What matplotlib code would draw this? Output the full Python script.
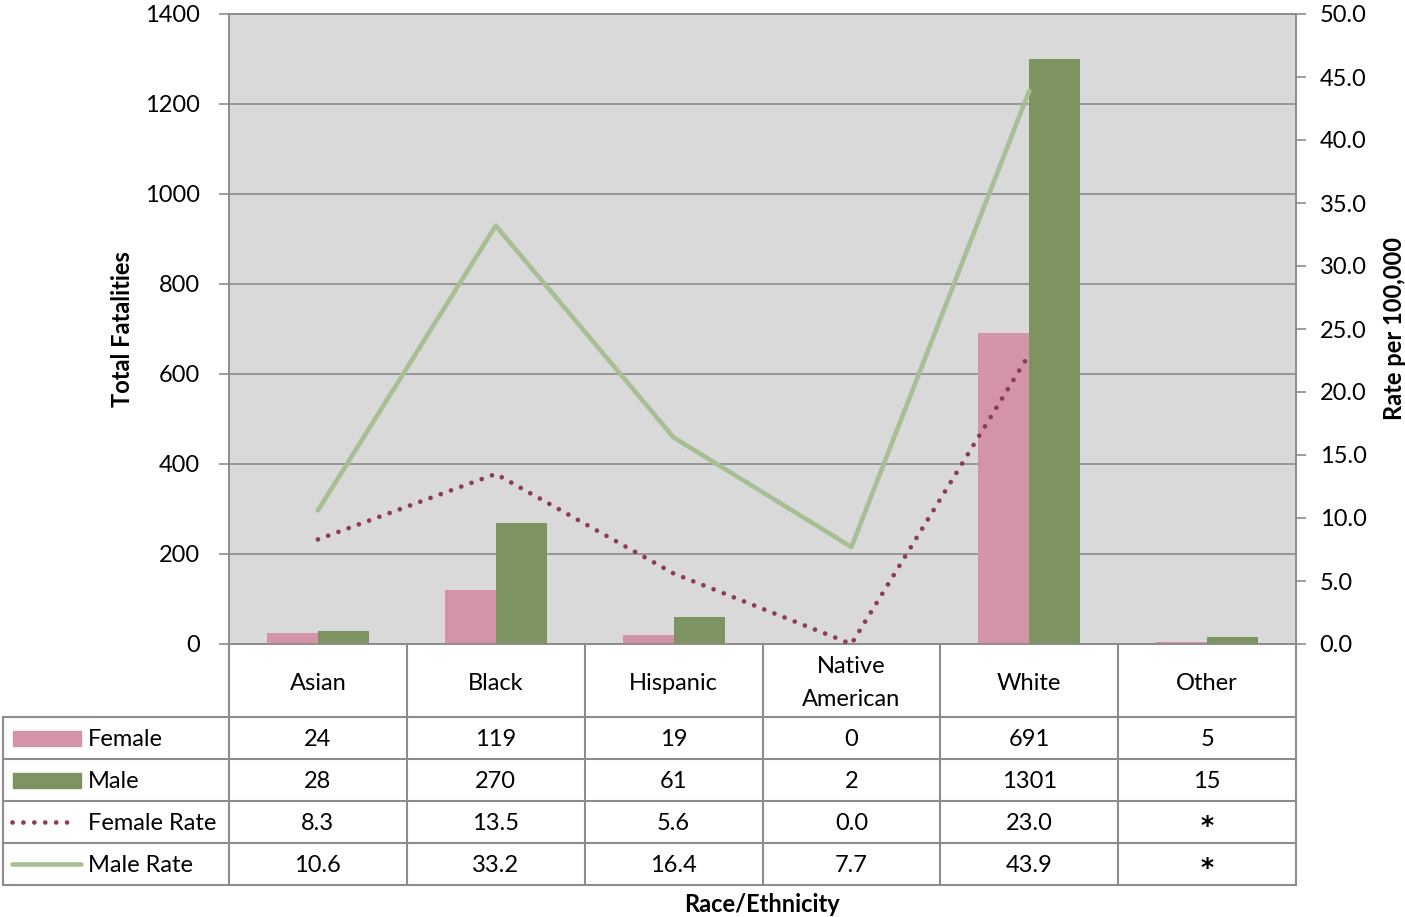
import matplotlib.pyplot as plt
import matplotlib.transforms as mtransforms
from matplotlib.lines import Line2D
from matplotlib.patches import Rectangle

plt.rcParams['font.family'] = ['Lato', 'DejaVu Sans']

# data
categories = ['Asian', 'Black', 'Hispanic', 'Native\nAmerican', 'White', 'Other']
female = [24, 119, 19, 0, 691, 5]
male = [28, 270, 61, 2, 1301, 15]
female_rate = [8.3, 13.5, 5.6, 0.0, 23.0, None]
male_rate = [10.6, 33.2, 16.4, 7.7, 43.9, None]

c_female = '#D394A8'
c_male = '#7D9462'
c_frate = '#8E3B5B'
c_mrate = '#A8BE95'
c_grid = '#8C8C8C'
fs = 17

W, H = 1405, 917
fig = plt.figure(figsize=(W / 100, H / 100), dpi=100)

# plot area in pixels
x0, x1, ytop, ybot = 229, 1296, 14, 644
ax = fig.add_axes([x0 / W, 1 - ybot / H, (x1 - x0) / W, (ybot - ytop) / H])
ax.set_facecolor('#D9D9D9')

x = list(range(len(categories)))
bw = 0.287
ax.bar([i - bw / 2 for i in x], female, bw, color=c_female, zorder=3)
ax.bar([i + bw / 2 for i in x], male, bw, color=c_male, zorder=3)
ax.set_xlim(-0.5, len(categories) - 0.5)
ax.set_ylim(0, 1400)
ax.set_yticks(range(0, 1401, 200))
ax.yaxis.grid(True, color=c_grid, lw=1.2, zorder=0)
ax.set_axisbelow(True)
ax.set_xticks([])
ax.tick_params(axis='y', length=7, width=1.2, color=c_grid, labelsize=fs, pad=14)
for s in ax.spines.values():
    s.set_color(c_grid)
    s.set_linewidth(1.2)
ax.set_ylabel('Total Fatalities', fontsize=fs, fontweight='bold', labelpad=8)

ax2 = ax.twinx()
fx = [i for i, v in enumerate(female_rate) if v is not None]
fy = [v for v in female_rate if v is not None]
mx = [i for i, v in enumerate(male_rate) if v is not None]
my = [v for v in male_rate if v is not None]
dots = (0, (0.01, 2.3))
ax2.plot(mx, my, color=c_mrate, lw=3.3, solid_capstyle='round', zorder=4)
ax2.plot(fx, fy, color=c_frate, lw=3.4, linestyle=dots,
         dash_capstyle='round', zorder=5)
ax2.set_ylim(0, 50)
ax2.set_yticks([i * 5 for i in range(11)])
ax2.set_yticklabels([f'{i * 5:.1f}' for i in range(11)])
ax2.tick_params(axis='y', length=7, width=1.2, color=c_grid, labelsize=fs, pad=10)
for s in ax2.spines.values():
    s.set_color(c_grid)
    s.set_linewidth(1.2)
ax2.set_ylabel('Rate per 100,000', fontsize=fs, fontweight='bold', labelpad=12)

# data table below the chart: x in data units, y in figure fraction
tr = mtransforms.blended_transform_factory(ax.transData, fig.transFigure)
colw = (x1 - x0) / len(categories)
xleft = -0.5 - (x0 - 3) / colw
xright = len(categories) - 0.5


def fy_(py):
    return 1 - py / H


row_edges = [717, 759, 801, 843, 885]
lkw = dict(color=c_grid, lw=1.5, transform=tr, clip_on=False)
# horizontal lines
for py in row_edges:
    fig.add_artist(Line2D([xleft, xright], [fy_(py)] * 2, **lkw))
# vertical lines
fig.add_artist(Line2D([xleft, xleft], [fy_(717), fy_(885)], **lkw))
for i in range(len(categories) + 1):
    xe = i - 0.5
    fig.add_artist(Line2D([xe, xe], [fy_(644), fy_(885)], **lkw))

tkw = dict(transform=tr, fontsize=fs, ha='center', va='center')
for i, c in enumerate(categories):
    fig.text(i, fy_(683), c, linespacing=1.75, **tkw)

rows = [
    ('Female', [str(v) for v in female]),
    ('Male', [str(v) for v in male]),
    ('Female Rate', ['*' if v is None else f'{v:.1f}' for v in female_rate]),
    ('Male Rate', ['*' if v is None else f'{v:.1f}' for v in male_rate]),
]
for r, (name, vals) in enumerate(rows):
    yc = fy_((row_edges[r] + row_edges[r + 1]) / 2 + 2)
    for i, v in enumerate(vals):
        if v == '*':
            fig.text(i, yc - 2 / H, v, transform=tr, fontsize=18,
                     ha='center', va='center', family='DejaVu Sans',
                     fontweight='bold')
        else:
            fig.text(i, yc, v, **tkw)
    fig.text(88 / W, yc, name, fontsize=fs, ha='left', va='center')

# legend keys in the table
sw0, sw1 = 13 / W, 81 / W
for r, col in enumerate([c_female, c_male]):
    yc = fy_((row_edges[r] + row_edges[r + 1]) / 2)
    fig.add_artist(Rectangle((sw0, yc - 7.5 / H), sw1 - sw0, 15 / H,
                             color=col, transform=fig.transFigure))
yc = fy_((row_edges[2] + row_edges[3]) / 2)
fig.add_artist(Line2D([12 / W, 76 / W], [yc, yc], color=c_frate, lw=3.4,
                      linestyle=dots, dash_capstyle='round'))
yc = fy_((row_edges[3] + row_edges[4]) / 2)
fig.add_artist(Line2D([12 / W, 81 / W], [yc, yc], color=c_mrate, lw=3.3,
                      solid_capstyle='round'))

fig.text(762 / W, fy_(905), 'Race/Ethnicity', fontsize=fs, fontweight='bold',
         ha='center', va='center')

fig.savefig('out.png', dpi=100)
